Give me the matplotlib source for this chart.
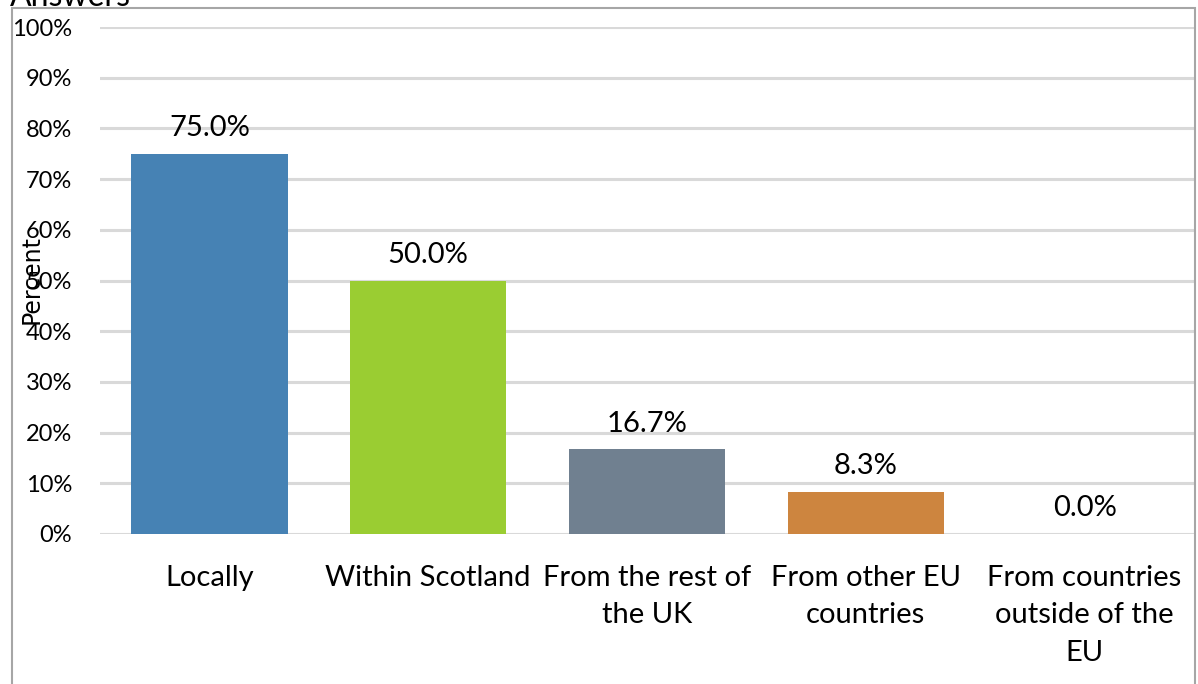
import matplotlib.pyplot as plt
from matplotlib.patches import Rectangle
from matplotlib.ticker import PercentFormatter

# data
categories = ["Locally", "Within Scotland", "From the rest of\nthe UK",
              "From other EU\ncountries", "From countries\noutside of the\nEU"]
values = [75.0, 50.0, 16.7, 8.3, 0.0]
colors = ["#4682B4", "#9ACD32", "#708090", "#CD853F", "#B0C4DE"]

W, H = 1198, 684
fig = plt.figure(figsize=(W / 100, H / 100), dpi=100)
ax = fig.add_axes([100 / W, 1 - 534 / H, 1094 / W, 507 / H])

x = range(len(categories))
bars = ax.bar(x, values, width=0.715, color=colors, zorder=3)

# value labels above bars
for xi, v in zip(x, values):
    ax.annotate(f"{v:.1f}%", (xi, v), xytext=(0, 9), textcoords="offset points",
                ha="center", va="bottom", fontsize=21, family="Lato")

ax.set_xlim(-0.5, len(categories) - 0.5)
ax.set_ylim(0, 100)
ax.set_yticks(range(0, 101, 10))
ax.yaxis.set_major_formatter(PercentFormatter(decimals=0))
ax.set_xticks(list(x))
ax.set_xticklabels(categories, fontsize=21, family="Lato", linespacing=1.55)
for lbl in ax.get_yticklabels():
    lbl.set_fontsize(17)
    lbl.set_family("Lato")

ax.tick_params(axis="both", length=0)
ax.tick_params(axis="y", pad=20)
ax.tick_params(axis="x", pad=22)
ax.grid(axis="y", color="#d9d9d9", linewidth=2.2, zorder=0)
for s in ax.spines.values():
    s.set_visible(False)

# y label overlapping the ticks, like the source
fig.text(32 / W, 1 - 280 / H, "Percent", rotation=90, fontsize=17,
         ha="center", va="center")

# cut-off title at top-left
fig.text(10 / W, 1 - 6 / H, "Answers", fontsize=23, family="Lato",
         ha="left", va="baseline")

# outer border
fig.patches.append(Rectangle((12 / W, -0.1), 1183 / W, 1.1 - 8 / H,
                             transform=fig.transFigure, fill=False,
                             edgecolor="#a6a6a6", linewidth=1.5))

fig.savefig("out.png", dpi=100)
